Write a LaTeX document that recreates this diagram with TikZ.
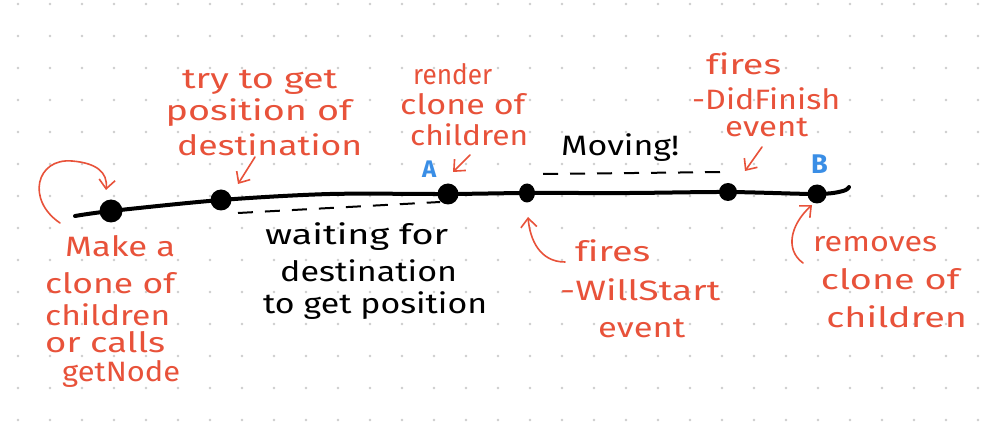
\documentclass[tikz,border=0pt]{standalone}
\usepackage{fontspec}
\setmainfont{Fira Sans}[Ligatures=CommonOff]
\usepackage{graphicx}
\usetikzlibrary{arrows.meta,shapes.geometric}
\definecolor{ink}{RGB}{232,82,58}
\definecolor{bluelab}{RGB}{58,142,230}
\definecolor{griddot}{RGB}{205,205,205}
\newlength\handw
\newcommand\fitto[2]{\settowidth{\handw}{#2}\pgfmathsetmacro\hfac{min(1.35,#1/\handw)}\makebox[#1pt][c]{\scalebox{\hfac}[1]{#2}}}
\begin{document}
\begin{tikzpicture}[x=1pt,y=-1pt,
  rt/.style={text=ink, anchor=base west, inner sep=0pt, font=\fontsize{28}{28}\selectfont},
  bt/.style={text=black, anchor=base west, inner sep=0pt, font=\fontsize{28}{28}\selectfont},
  lab/.style={text=bluelab, anchor=base west, inner sep=0pt, font=\bfseries},
  bigdot/.style={circle, fill=black, inner sep=0pt},
  harrow/.style={draw=ink, line width=1.6pt, line cap=round, line join=round,
    -{Straight Barb[length=9pt,width=16pt,line width=1.6pt]}},
  mainline/.style={draw=black, line width=4pt, line cap=round, line join=round},
  dashline/.style={draw=black, line width=2pt, dash pattern=on 15pt off 12pt}
]
\useasboundingbox[fill=white] (0,0) rectangle (1000,443);
\foreach \i in {0,...,30}{\foreach \j in {0,...,13}{\fill[griddot] (18+32*\i,4+32*\j) circle (1.3);}}

% dots on the time line
\node[bigdot, minimum size=23pt] (d1) at (111,211) {};
\node[bigdot, minimum size=21pt] (d2) at (221,200) {};
\node[bigdot, minimum size=21pt] (d3) at (448,194) {};
\node[bigdot, ellipse, minimum width=16pt, minimum height=19pt] (d4) at (527,193) {};
\node[bigdot, minimum size=18pt] (d5) at (728,192) {};
\node[bigdot, minimum size=19pt] (d6) at (817,194) {};
\coordinate (ls) at (75,216);
\coordinate (lm1) at (330,194);
\coordinate (lm2) at (630,193);
\coordinate (le1) at (843,191);
\coordinate (le) at (849,187);
\draw[mainline] plot[smooth, tension=0.5] coordinates {(ls) (d1) (d2) (lm1) (d3) (d4) (lm2) (d5) (d6) (le1) (le)};

% dashed spans
\coordinate (w1) at (238,213);
\coordinate (w2) at (440,202);
\draw[dashline] (w1) -- (w2);
\coordinate (m1) at (543,174);
\coordinate (m2) at (726,172);
\draw[dashline] (m1) -- (m2);

% labels A and B
\node[lab, font=\bfseries\fontsize{24}{24}\selectfont] (la) at (422,178) {A};
\node[lab, font=\bfseries\fontsize{27}{27}\selectfont] (lb) at (811,174) {B};

% left block
\node[rt] (ma) at (65,257) {\fitto{110}{Make a}};
\node[rt] (mb) at (45,294) {\fitto{130}{clone of}};
\node[rt] (mc) at (45,325) {\fitto{125}{children}};
\node[rt] (md) at (45,352) {\fitto{120}{or calls}};
\node[rt] (me) at (62,381) {\fitto{118}{getNode}};
\coordinate (a1s) at (60,223);
\coordinate (a1e) at (106,190);
\draw[harrow] (a1s) .. controls (26,200) and (36,158) .. (72,161) .. controls (96,163) and (108,172) .. (a1e);

% try to get position
\node[rt] (ta) at (172,89) {\fitto{175}{try to get}};
\node[rt] (tb) at (157,121) {\fitto{203}{position of}};
\node[rt] (tc) at (177,156) {\fitto{185}{destination}};
\coordinate (a2s) at (255,157);
\coordinate (a2e) at (238,184);
\draw[harrow] (a2s) -- (a2e);

% render clone
\node[rt] (ra) at (413,85) {\fitto{79}{render}};
\node[rt] (rb) at (400,115) {\fitto{125}{clone of}};
\node[rt] (rc) at (410,146) {\fitto{118}{children}};
\coordinate (a3s) at (470,155);
\coordinate (a3e) at (453,172);
\draw[harrow] (a3s) -- (a3e);

% moving
\node[bt] (mv) at (561,156) {\fitto{118}{Moving!}};

% did finish
\node[rt] (fa) at (697,75) {\fitto{93}{fires}};
\node[rt] (fb) at (692,110) {\fitto{148}{-DidFinish}};
\node[rt] (fc) at (725,137) {\fitto{83}{event}};
\coordinate (a4s) at (762,147);
\coordinate (a4e) at (745,171);
\draw[harrow] (a4s) -- (a4e);

% waiting
\node[bt] (wa) at (263,245) {\fitto{187}{waiting for}};
\node[bt] (wb) at (280,282) {\fitto{177}{destination}};
\node[bt] (wc) at (263,313) {\fitto{224}{to get position}};

% will start
\node[rt] (sa) at (568,262) {\fitto{89}{fires}};
\node[rt] (sb) at (560,300) {\fitto{160}{-WillStart}};
\node[rt] (sc) at (598,337) {\fitto{87}{event}};
\coordinate (a5s) at (565,262);
\coordinate (a5e) at (528,217);
\draw[harrow] (a5s) .. controls (540,262) and (530,240) .. (a5e);

% removes
\node[rt] (xa) at (813,252) {\fitto{124}{removes}};
\node[rt] (xb) at (817,290) {\fitto{146}{clone of}};
\node[rt] (xc) at (823,327) {\fitto{147}{children}};
\coordinate (a6s) at (803,263);
\coordinate (a6e) at (812,205);
\draw[harrow] (a6s) .. controls (785,250) and (790,225) .. (a6e);
\end{tikzpicture}
\end{document}
